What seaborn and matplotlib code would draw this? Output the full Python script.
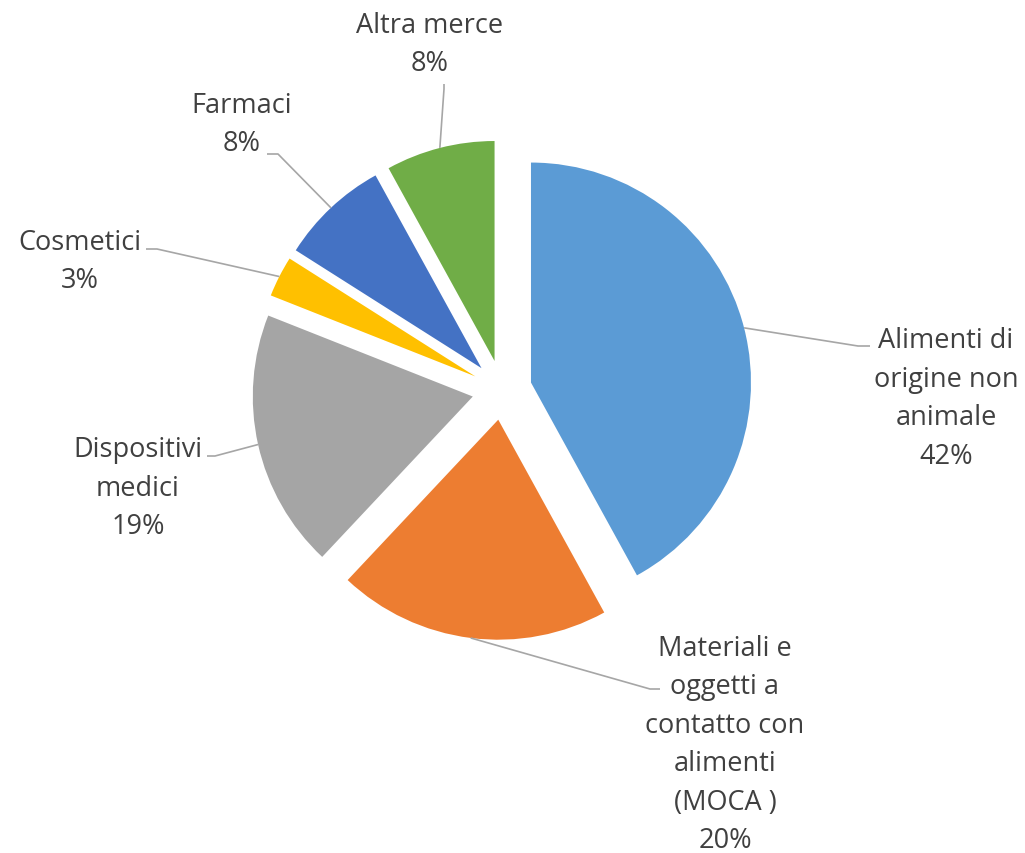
import numpy as np
import matplotlib
matplotlib.use("Agg")
import matplotlib.pyplot as plt
import seaborn as sns

# data
categories = ["Alimenti di\norigine non\nanimale", "Materiali e\noggetti a\ncontatto con\nalimenti\n(MOCA )",
              "Dispositivi\nmedici", "Cosmetici", "Farmaci", "Altra merce"]
shares = [42, 20, 19, 3, 8, 8]
colors = ["#5B9BD5", "#ED7D31", "#A5A5A5", "#FFC000", "#4472C4", "#70AD47"]

sns.set_style("white")
plt.rcParams['font.family'] = ['Open Sans', 'DejaVu Sans']

W, H = 1025, 854
CX, CY, R = 502, 391, 220  # pie centre / radius in pixels


def px(x, y):
    # pixel position -> data units (pie radius = 1)
    return (x - CX) / R, (CY - y) / R


fig = plt.figure(figsize=(W / 100, H / 100), dpi=100)
ax = fig.add_axes([0, 0, 1, 1])

wedges, _ = ax.pie(shares, colors=colors, startangle=90, counterclock=False,
                   explode=[0.136] * len(shares), radius=1,
                   wedgeprops=dict(linewidth=0))

ax.set_xlim(-CX / R, (W - CX) / R)
ax.set_ylim(-(H - CY) / R, CY / R)
ax.set_aspect("equal")
ax.axis("off")

# label centre, leader elbow, leader end (pixels)
label_pos = [(946, 399), (725, 745), (138, 489), (80, 262), (242, 125), (430, 45)]
elbows = [(858, 347), (650, 690), (215, 457), (157, 250), (278, 155), (444, 90)]
ends = [(870, 347), (660, 690), (207, 457), (146, 250), (267, 155), (444, 85)]

for w, cat, val, lp, el, en in zip(wedges, categories, shares, label_pos, elbows, ends):
    mid = np.deg2rad((w.theta1 + w.theta2) / 2)
    sx = w.center[0] + w.r * np.cos(mid)
    sy = w.center[1] + w.r * np.sin(mid)
    ex, ey = px(*el)
    nx, ny = px(*en)
    ax.plot([sx, ex, nx], [sy, ey, ny], color="#A6A6A6", lw=1.2, solid_capstyle="butt")
    tx, ty = px(*lp)
    ax.text(tx, ty, f"{cat}\n{val}%", ha="center", va="center", multialignment="center",
            fontsize=19.5, color="#404040", linespacing=1.5)

fig.savefig("out.png", dpi=100)
